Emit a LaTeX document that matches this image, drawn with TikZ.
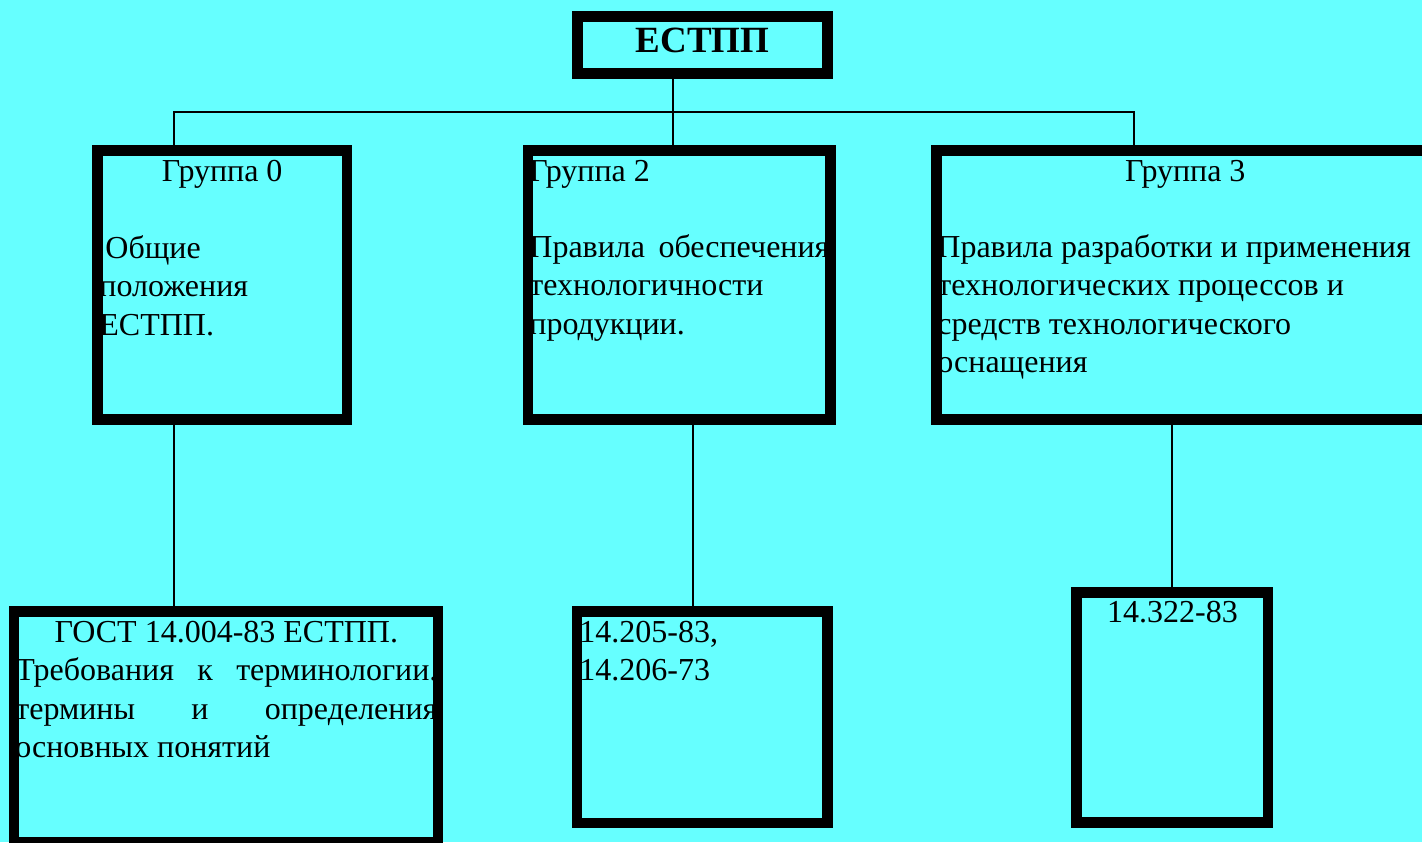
\documentclass[tikz,border=0pt]{standalone}
\usepackage{fontspec}
\setmainfont{Liberation Serif}
\usetikzlibrary{positioning,calc}
\definecolor{bgcyan}{HTML}{66FFFF}

\begin{document}
\begin{tikzpicture}[x=0.5pt,y=-0.5pt,
        box/.style={rectangle,draw=black,line width=5.25pt,inner sep=0pt},
        txt/.style={inner sep=0pt,anchor=base west,align=flush left,font=\fontsize{16}{19.25}\selectfont},
        ctxt/.style={txt,anchor=base,align=center},
        link/.style={draw=black,line width=1.2pt}]
        \useasboundingbox (0,0) rectangle (1422,842);
        \clip (0,0) rectangle (1422,842);
        \fill[bgcyan] (0,0) rectangle (1422,842);

        % texts first, the borders go over them
        \node[ctxt,font=\fontsize{18.5}{22}\selectfont\bfseries] (estpp-txt) at (702.5,52) {ЕСТПП};

        \node[ctxt] (grp0-head) at (222.25,181) {Группа 0};
        \node[txt,text width=120pt] (grp0-txt) at (99,258) {\hspace*{3pt}Общие\\положения\\ЕСТПП.};

        \node[txt] (grp2-head) at (529,181) {Группа 2};
        \node[txt,text width=150pt] (grp2-txt) at (529,257) {Правила\hfill обеспечения\\технологичности\\продукции.};

        \node[ctxt] (grp3-head) at (1185.25,181) {Группа 3};
        \node[txt,text width=260pt] (grp3-txt) at (937,257) {Правила разработки и применения\\технологических процессов и\\средств технологического\\оснащения};

        \node[txt,text width=211pt] (doc0-txt) at (15,642) {\hspace*{\fill}ГОСТ 14.004-83 ЕСТПП.\hspace*{\fill}\null\\Требования\hfill к\hfill терминологии.\\термины\hfill и\hfill определения\\основных понятий};
        \node[txt,text width=120pt] (doc2-txt) at (579,642) {14.205-83,\\14.206-73};
        \node[ctxt] (doc3-txt) at (1172.5,622) {14.322-83};

        % boxes
        \node[box,minimum width=125pt,minimum height=28.5pt] (estpp) at (702.5,45) {};
        \node[box,minimum width=124.75pt,minimum height=134.5pt] (grp0) at (222.25,285) {};
        \node[box,minimum width=151.25pt,minimum height=134.5pt] (grp2) at (679.25,285) {};
        \node[box,minimum width=248.75pt,minimum height=134.5pt] (grp3) at (1185.25,285) {};
        \node[box,minimum width=212pt,minimum height=115.25pt] (doc0) at (226,726.75) {};
        \node[box,minimum width=125.25pt,minimum height=105.75pt] (doc2) at (702.25,717.25) {};
        \node[box,minimum width=95.75pt,minimum height=115pt] (doc3) at (1172.25,707.5) {};

        % connectors
        \coordinate (j0) at (174,112);
        \coordinate (j2) at (673,112);
        \coordinate (j3) at (1134,112);
        \coordinate (k2) at (693,0);
        \draw[link] (j2 |- estpp.south) -- (j2);
        \draw[link] (j0 |- grp0.north) -- (j0) -- (j3) -- (j3 |- grp3.north);
        \draw[link] (j2) -- (j2 |- grp2.north);
        \draw[link] (j0 |- grp0.south) -- (j0 |- doc0.north);
        \draw[link] (k2 |- grp2.south) -- (k2 |- doc2.north);
        \draw[link] (doc3.north |- grp3.south) -- (doc3.north);
\end{tikzpicture}
\end{document}
